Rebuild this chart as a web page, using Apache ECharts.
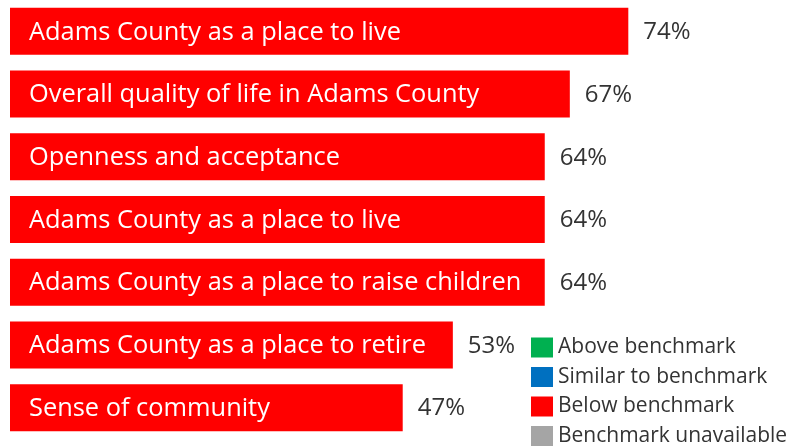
<!DOCTYPE html>
<html>
<head>
<meta charset="utf-8">
<script src="https://cdn.jsdelivr.net/npm/echarts@6/dist/echarts.min.js"></script>
<style>
html,body{margin:0;padding:0;background:#fff;}
#chart{width:788px;height:448px;}
</style>
</head>
<body>
<div id="chart"></div>
<script>
var categories = [
  "Adams County as a place to live",
  "Overall quality of life in Adams County",
  "Openness and acceptance",
  "Adams County as a place to live",
  "Adams County as a place to raise children",
  "Adams County as a place to retire",
  "Sense of community"
];
var values = [74, 67, 64, 64, 64, 53, 47];
var legendNames = ["Above benchmark", "Similar to benchmark", "Below benchmark", "Benchmark unavailable"];
var legendColors = ["#00B050", "#0070C0", "#FF0000", "#A5A5A5"];

var FONT = "'Open Sans', sans-serif";
var chart = echarts.init(document.getElementById('chart'), null, {renderer: 'canvas'});

var series = [];
legendNames.forEach(function (name, i) {
  series.push({
    type: 'bar',
    name: name,
    stack: 'main',
    barWidth: 47,
    barGap: '-100%',
    data: name === 'Below benchmark' ? values : [],
    itemStyle: {color: legendColors[i]},
    label: name === 'Below benchmark' ? {
      show: true,
      position: 'right',
      distance: 15,
      offset: [0, 1],
      formatter: function (p) { return p.value + '%'; },
      color: '#333333',
      fontFamily: FONT,
      fontSize: 24
    } : {show: false},
    emphasis: {disabled: true},
    silent: true
  });
});
series.push({
  type: 'bar',
  name: 'names',
  barWidth: 47,
  barGap: '-100%',
  data: values,
  itemStyle: {color: 'rgba(0,0,0,0)'},
  label: {
    show: true,
    position: 'insideLeft',
    distance: 19,
    offset: [0, 1],
    formatter: function (p) { return categories[p.dataIndex]; },
    color: '#ffffff',
    fontFamily: FONT,
    fontSize: 25.4
  },
  emphasis: {disabled: true},
  silent: true,
  z: 5
});

chart.setOption({
  animation: false,
  backgroundColor: '#ffffff',
  grid: {left: 10, width: 752, top: -1, height: 440, containLabel: false},
  xAxis: {type: 'value', min: 0, max: 90, show: false},
  yAxis: {type: 'category', inverse: true, data: categories.map(function (c, i) { return i; }), show: false},
  legend: {
    data: legendNames,
    orient: 'vertical',
    left: 531,
    top: 337,
    padding: 0,
    itemWidth: 22,
    itemHeight: 20,
    itemGap: 8.5,
    icon: 'rect',
    selectedMode: false,
    textStyle: {fontFamily: FONT, fontSize: 21, color: '#333333'}
  },
  series: series
});
</script>
</body>
</html>
